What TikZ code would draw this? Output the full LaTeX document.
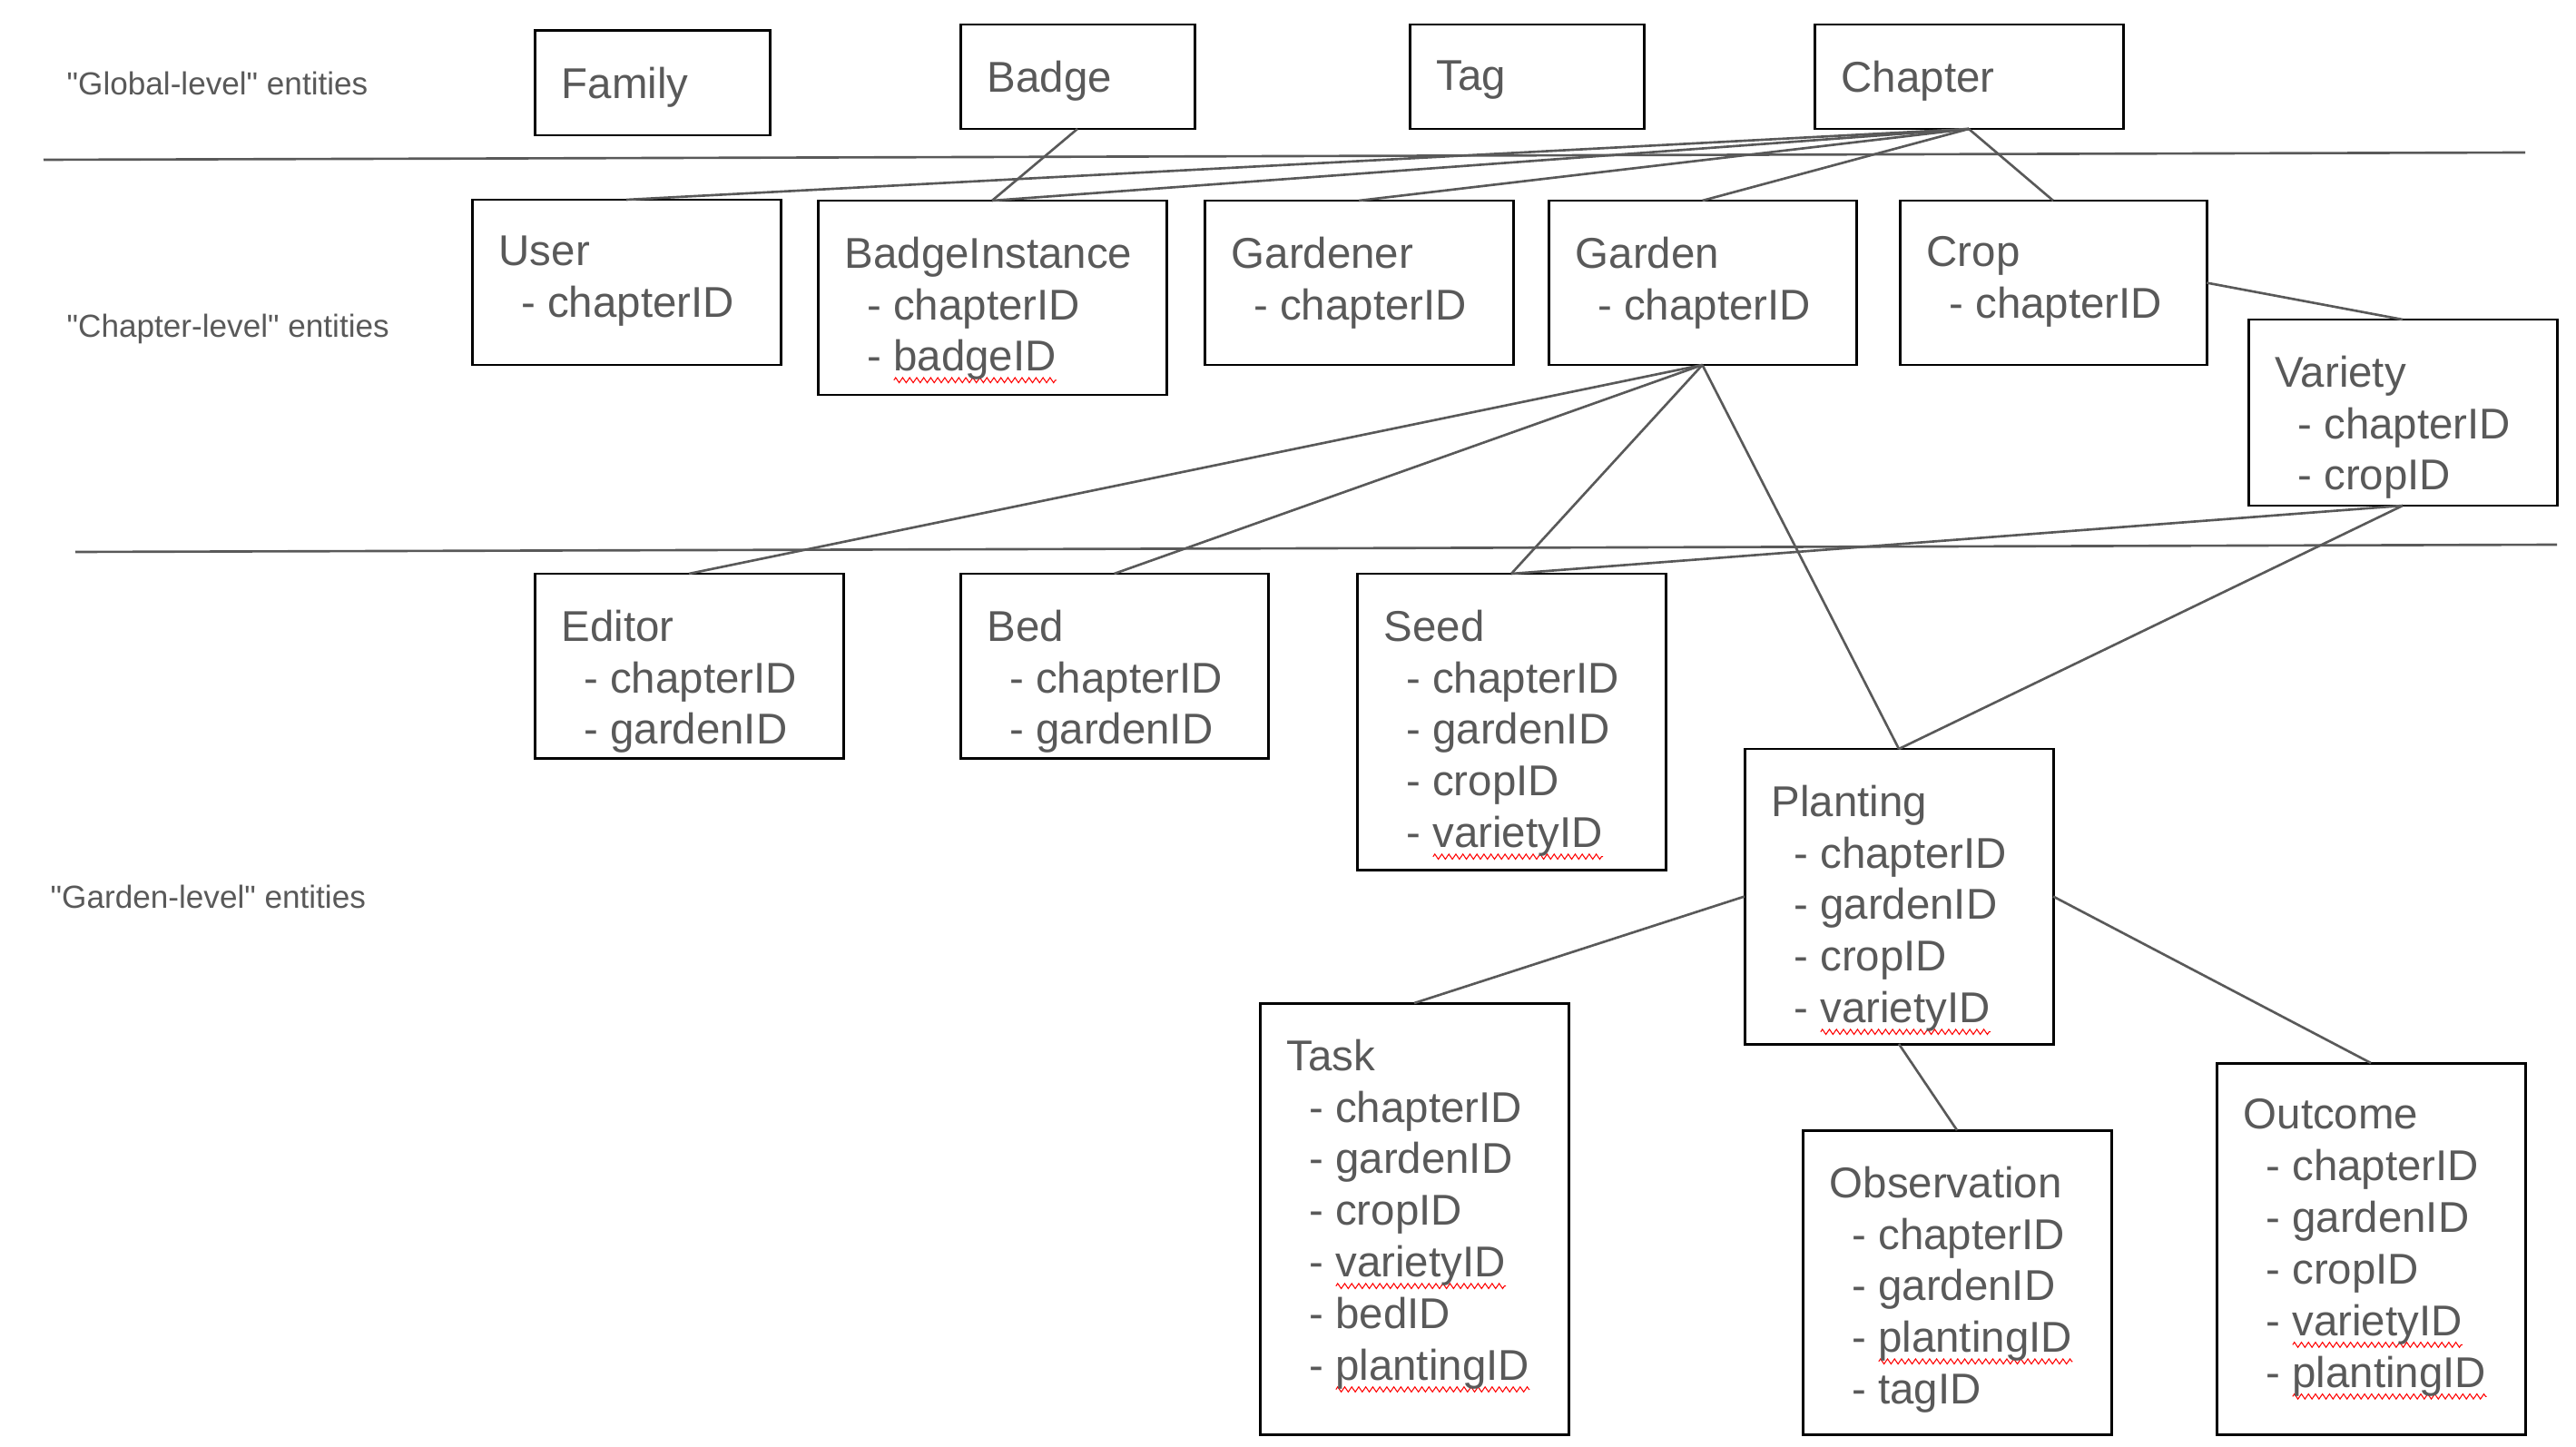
\documentclass[tikz,border=0pt]{standalone}
\usepackage{fontspec}
\setmainfont{Liberation Sans}
\usetikzlibrary{positioning, decorations.pathmorphing}
\definecolor{inkgray}{HTML}{595959}
\newcommand{\fld}[1]{\hspace*{7pt}- #1}
\newsavebox{\squigbox}
\newcommand{\squig}[1]{\sbox{\squigbox}{#1}\rlap{\tikz[baseline = 0pt]\draw[red, line width = 0.3pt, decorate, decoration = {zigzag, amplitude = 0.8pt, segment length = 2.2pt}] (0,-2.8pt) -- (\wd\squigbox,-2.8pt);}\usebox{\squigbox}}

\begin{document}
\begin{tikzpicture}[
  entity/.style = {draw = black, line width = 0.85pt, inner sep = 0pt, outer sep = 0pt, anchor = north west},
  fields/.style = {inner sep = 0pt, align = left, text = inkgray, font = \fontsize{13.5}{16.2}\selectfont},
  levelnote/.style = {anchor = west, inner sep = 0pt, text = inkgray, font = \fontsize{10}{12}\selectfont},
  link/.style = {draw = inkgray, line width = 0.75pt}]
\useasboundingbox (0,0) rectangle (28.38,-15.94);

\node[levelnote] (globalnote) at (0.73,-0.92) {\textquotedbl Global-level\textquotedbl{} entities};
\node[levelnote] (chapternote) at (0.73,-3.62) {\textquotedbl Chapter-level\textquotedbl{} entities};
\node[levelnote] (gardennote) at (0.55,-9.88) {\textquotedbl Garden-level\textquotedbl{} entities};

\draw[link] (0.48,-1.76) -- (27.82,-1.68);
\draw[link] (0.83,-6.08) -- (28.17,-6.00);

\node[entity, minimum width = 2.59cm, minimum height = 1.15cm] (family) at (5.89,-0.34) {};
\node[entity, minimum width = 2.58cm, minimum height = 1.15cm] (badge) at (10.58,-0.27) {};
\node[entity, minimum width = 2.58cm, minimum height = 1.15cm] (tag) at (15.53,-0.27) {};
\node[entity, minimum width = 3.40cm, minimum height = 1.15cm] (chapter) at (19.99,-0.27) {};

\node[entity, minimum width = 3.40cm, minimum height = 1.82cm] (user) at (5.20,-2.20) {};
\node[entity, minimum width = 3.84cm, minimum height = 2.14cm] (badgeinst) at (9.01,-2.21) {};
\node[entity, minimum width = 3.40cm, minimum height = 1.81cm] (gardener) at (13.27,-2.21) {};
\node[entity, minimum width = 3.39cm, minimum height = 1.81cm] (garden) at (17.06,-2.21) {};
\node[entity, minimum width = 3.38cm, minimum height = 1.81cm] (crop) at (20.93,-2.21) {};
\node[entity, minimum width = 3.40cm, minimum height = 2.05cm] (variety) at (24.77,-3.52) {};

\node[entity, minimum width = 3.40cm, minimum height = 2.03cm] (editor) at (5.89,-6.32) {};
\node[entity, minimum width = 3.39cm, minimum height = 2.03cm] (bed) at (10.58,-6.32) {};
\node[entity, minimum width = 3.40cm, minimum height = 3.26cm] (seed) at (14.95,-6.32) {};
\node[entity, minimum width = 3.40cm, minimum height = 3.25cm] (planting) at (19.22,-8.25) {};
\node[entity, minimum width = 3.40cm, minimum height = 4.75cm] (task) at (13.88,-11.05) {};
\node[entity, minimum width = 3.40cm, minimum height = 3.35cm] (observation) at (19.86,-12.45) {};
\node[entity, minimum width = 3.40cm, minimum height = 4.09cm] (outcome) at (24.42,-11.71) {};

\node[fields, below right = 0.39cm and 0.29cm of family.north west] (familytxt) {Family};
\node[fields, below right = 0.39cm and 0.29cm of badge.north west] (badgetxt) {Badge};
\node[fields, below right = 0.39cm and 0.29cm of tag.north west] (tagtxt) {Tag};
\node[fields, below right = 0.39cm and 0.29cm of chapter.north west] (chaptertxt) {Chapter};
\node[fields, below right = 0.39cm and 0.29cm of user.north west] (usertxt) {User\\\fld{chapterID}};
\node[fields, below right = 0.39cm and 0.29cm of badgeinst.north west] (badgeinsttxt) {BadgeInstance\\\fld{chapterID}\\\fld{\squig{badgeID}}};
\node[fields, below right = 0.39cm and 0.29cm of gardener.north west] (gardenertxt) {Gardener\\\fld{chapterID}};
\node[fields, below right = 0.39cm and 0.29cm of garden.north west] (gardentxt) {Garden\\\fld{chapterID}};
\node[fields, below right = 0.39cm and 0.29cm of crop.north west] (croptxt) {Crop\\\fld{chapterID}};
\node[fields, below right = 0.39cm and 0.29cm of variety.north west] (varietytxt) {Variety\\\fld{chapterID}\\\fld{cropID}};
\node[fields, below right = 0.39cm and 0.29cm of editor.north west] (editortxt) {Editor\\\fld{chapterID}\\\fld{gardenID}};
\node[fields, below right = 0.39cm and 0.29cm of bed.north west] (bedtxt) {Bed\\\fld{chapterID}\\\fld{gardenID}};
\node[fields, below right = 0.39cm and 0.29cm of seed.north west] (seedtxt) {Seed\\\fld{chapterID}\\\fld{gardenID}\\\fld{cropID}\\\fld{\squig{varietyID}}};
\node[fields, below right = 0.39cm and 0.29cm of planting.north west] (plantingtxt) {Planting\\\fld{chapterID}\\\fld{gardenID}\\\fld{cropID}\\\fld{\squig{varietyID}}};
\node[fields, below right = 0.39cm and 0.29cm of task.north west] (tasktxt) {Task\\\fld{chapterID}\\\fld{gardenID}\\\fld{cropID}\\\fld{\squig{varietyID}}\\\fld{bedID}\\\fld{\squig{plantingID}}};
\node[fields, below right = 0.39cm and 0.29cm of observation.north west] (observationtxt) {Observation\\\fld{chapterID}\\\fld{gardenID}\\\fld{\squig{plantingID}}\\\fld{tagID}};
\node[fields, below right = 0.39cm and 0.29cm of outcome.north west] (outcometxt) {Outcome\\\fld{chapterID}\\\fld{gardenID}\\\fld{cropID}\\\fld{\squig{varietyID}}\\\fld{\squig{plantingID}}};

\draw[link] (badge.south) -- (badgeinst.north);
\draw[link] (chapter.south) -- (user.north);
\draw[link] (chapter.south) -- (badgeinst.north);
\draw[link] (chapter.south) -- (gardener.north);
\draw[link] (chapter.south) -- (garden.north);
\draw[link] (chapter.south) -- (crop.north);
\draw[link] (crop.east) -- (variety.north);
\draw[link] (garden.south) -- (editor.north);
\draw[link] (garden.south) -- (bed.north);
\draw[link] (garden.south) -- (seed.north);
\draw[link] (garden.south) -- (planting.north);
\draw[link] (variety.south) -- (seed.north);
\draw[link] (variety.south) -- (planting.north);
\draw[link] (planting.west) -- (task.north);
\draw[link] (planting.south) -- (observation.north);
\draw[link] (planting.east) -- (outcome.north);
\end{tikzpicture}
\end{document}
